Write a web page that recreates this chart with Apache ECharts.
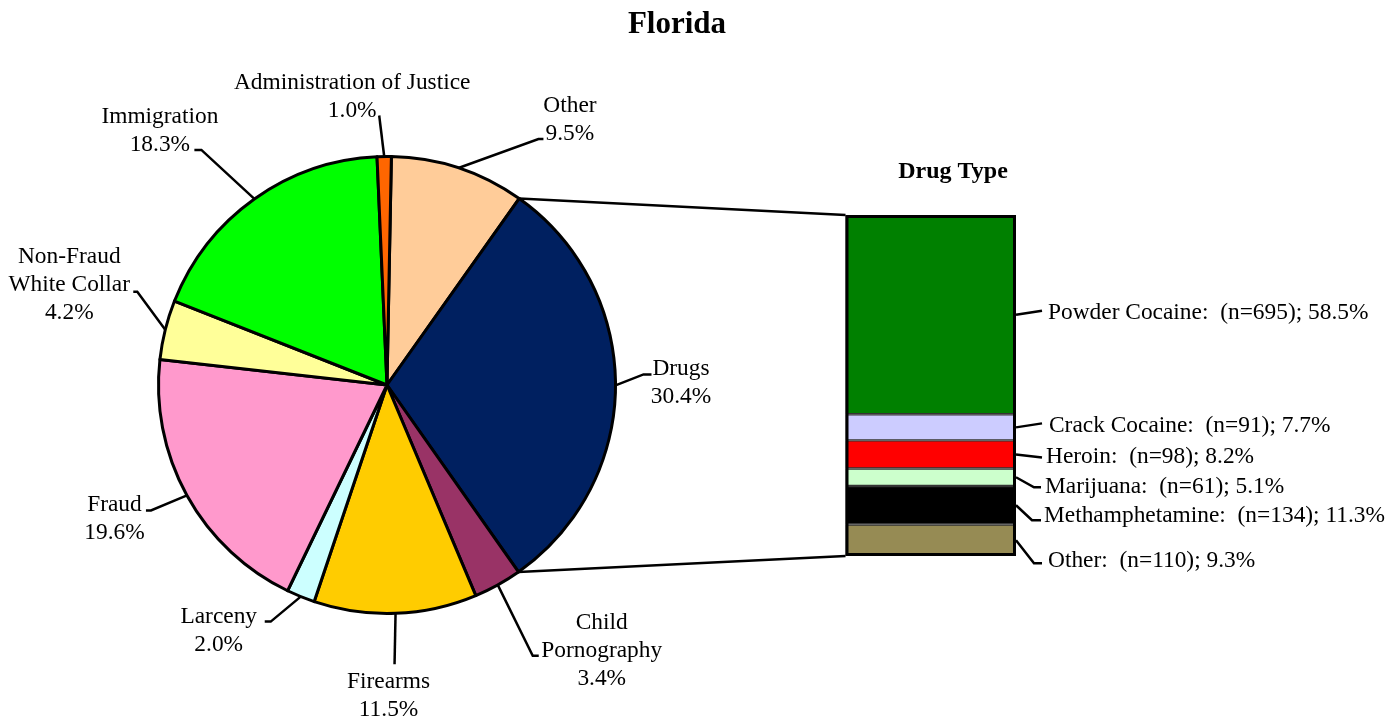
<!DOCTYPE html>
<html><head><meta charset="utf-8">
<script src="https://cdn.jsdelivr.net/npm/echarts@6/dist/echarts.min.js"></script>
<style>html,body{margin:0;padding:0;background:#fff}#c{width:1389px;height:719px}</style>
</head><body><div id="c"></div>
<script>
// ---------- data ----------
const categories = ['Other','Drugs','Child\nPornography','Firearms','Larceny','Fraud','Non-Fraud\nWhite Collar','Immigration','Administration of Justice'];
const shares = [9.5, 30.4, 3.4, 11.5, 2.0, 19.6, 4.2, 18.3, 1.0];
const drugTypes = ['Powder Cocaine','Crack Cocaine','Heroin','Marijuana','Methamphetamine','Other'];
const drugCounts = [695, 91, 98, 61, 134, 110];
const drugShares = [58.5, 7.7, 8.2, 5.1, 11.3, 9.3];

// ---------- styles / layout ----------
const pieColors = ['#FFCC99','#002060','#993366','#FFCC00','#CCFFFF','#FF99CC','#FFFF99','#00FF00','#FF6600'];
const drugColors = ['#008000','#CCCCFF','#FF0000','#CCFFCC','#000000','#968B54'];
const FONT = '"Liberation Serif", "Times New Roman", serif';
const FS = 23.4;
const PIE_C = [387, 385], PIE_R = 228.5, START = 88.9;
const GRID = {left: 845.5, top: 215, width: 170.5, height: 341};

// pie label placement relative to the anchor on the arc (line end, tick end, label centre)
const pieLabelPos = [
  {e:[80,-29],  t:[85,-29],  c:[111.5,-48]},
  {e:[28,-11],  t:[36,-11],  c:[65.5,-3]},
  {e:[35,71],   t:[41,71],   c:[104,66]},
  {e:[-1,51],   t:null,      c:[-7,82.5]},
  {e:[-30,25],  t:[-36,25],  c:[-82,34.5]},
  {e:[-36,15],  t:[-41,15],  c:[-72.5,23]},
  {e:[-28,-38], t:[-32,-38], c:[-96,-44.5]},
  {e:[-53,-49], t:[-60,-49], c:[-94.5,-68.5]},
  {e:[-5,-41],  t:null,      c:[-32,-59.5]}
];
// bar label placement relative to the segment's right-edge midpoint
const barLabelPos = [
  {p:[[26,-4]],          lx:32, ly:-2},
  {p:[[26,-4]],          lx:33, ly:-1.5},
  {p:[[26,3]],           lx:30, ly:2},
  {p:[[18,10],[25,10]],  lx:29, ly:10},
  {p:[[16,15],[25,15]],  lx:28, ly:10.5},
  {p:[[18,23],[26,23]],  lx:32, ly:21}
];

const pieSum = shares.reduce((a,b)=>a+b, 0);
const drugTotal = drugCounts.reduce((a,b)=>a+b, 0);
function arcPoint(frac, r) {
  const th = (90 - START + frac * 360) * Math.PI / 180;
  return [PIE_C[0] + r * Math.sin(th), PIE_C[1] - r * Math.cos(th)];
}
const cumShares = shares.map((v,i)=>shares.slice(0,i).reduce((a,b)=>a+b,0));
const cumCounts = drugCounts.map((v,i)=>drugCounts.slice(0,i).reduce((a,b)=>a+b,0));

const chart = echarts.init(document.getElementById('c'), null, {renderer:'canvas'});

const textBase = {fontFamily: FONT, fontSize: FS, color: '#000', lineHeight: 28};

const barSeries = drugTypes.map((name, i) => ({
  name, type: 'bar', stack: 'drugs', barWidth: '100%',
  data: [drugCounts[i]],
  itemStyle: {color: drugColors[i], borderColor: '#333', borderWidth: 1.2},
  silent: true, z: 2
}));

const option = {
  animation: false,
  backgroundColor: '#fff',
  title: [
    {text: 'Florida', left: 677, top: 9, textAlign: 'center', padding: 0,
     textStyle: {fontFamily: FONT, fontSize: 31, fontWeight: 'bold', color: '#000'}},
    {text: 'Drug Type', left: 953, top: 160, textAlign: 'center', padding: 0,
     textStyle: {fontFamily: FONT, fontSize: 24, fontWeight: 'bold', color: '#000'}}
  ],
  grid: GRID,
  xAxis: {type: 'category', data: ['Drugs'], show: false, boundaryGap: true},
  yAxis: {type: 'value', min: 0, max: drugTotal, inverse: true, show: false},
  series: [
    {
      type: 'pie', center: PIE_C, radius: PIE_R, startAngle: START, clockwise: true,
      avoidLabelOverlap: false, silent: true,
      emphasis: {disabled: true, scale: false},
      data: categories.map((n,i)=>({name: n, value: shares[i], itemStyle: {color: pieColors[i]}})),
      itemStyle: {borderColor: '#000', borderWidth: 3},
      label: Object.assign({show: true, position: 'outside',
        formatter: p => p.name + '\n' + shares[p.dataIndex].toFixed(1) + '%'}, textBase),
      labelLine: {show: true, length: 20, length2: 6, lineStyle: {color: '#000', width: 2.5}},
      labelLayout: function (params) {
        const i = params.dataIndex;
        const A = arcPoint((cumShares[i] + shares[i] / 2) / pieSum, PIE_R);
        const L = pieLabelPos[i];
        const pts = [A, [A[0] + L.e[0], A[1] + L.e[1]]];
        if (L.t) pts.push([A[0] + L.t[0], A[1] + L.t[1]]);
        return {x: A[0] + L.c[0], y: A[1] + L.c[1], align: 'center', verticalAlign: 'middle', labelLinePoints: pts};
      }
    },
    ...barSeries,
    {
      type: 'bar', name: 'frame', barWidth: '100%', barGap: '-100%', data: [drugTotal],
      itemStyle: {color: 'rgba(0,0,0,0)', borderColor: '#000', borderWidth: 3}, silent: true, z: 5
    },
    {
      type: 'custom', name: 'drugLabels', silent: true, clip: false, z: 6,
      data: drugTypes.map((n,i)=>[0, cumCounts[i] + drugCounts[i] / 2]),
      renderItem: function (params, api) {
        const i = params.dataIndex;
        const c = api.coord([0, api.value(1)]);
        const bw = api.size([1, 0])[0];
        const x0 = c[0] + bw / 2, y0 = c[1];
        const L = barLabelPos[i];
        const pts = [[x0, y0]].concat(L.p.map(d => [x0 + d[0], y0 + d[1]]));
        const txt = drugTypes[i] + ':  (n=' + drugCounts[i] + '); ' + drugShares[i].toFixed(1) + '%';
        return {type: 'group', children: [
          {type: 'polyline', shape: {points: pts}, style: {stroke: '#000', lineWidth: 2.5, fill: null}},
          {type: 'text', x: x0 + L.lx, y: y0 + L.ly, style: {text: txt, fill: '#000',
            font: FS + 'px ' + FONT, align: 'left', verticalAlign: 'middle', textAlign: 'left', textVerticalAlign: 'middle'}}
        ]};
      }
    }
  ]
};
chart.setOption(option);

// connector lines from the drugs slice edges to the bar corners
const topPx = chart.convertToPixel({gridIndex: 0}, [0, 0]);
const botPx = chart.convertToPixel({gridIndex: 0}, [0, drugTotal]);
const barLeft = topPx[0] - GRID.width / 2;
const pTop = arcPoint(cumShares[1] / pieSum, PIE_R);
const pBot = arcPoint((cumShares[1] + shares[1]) / pieSum, PIE_R);
chart.setOption({graphic: [
  {type: 'line', shape: {x1: pTop[0], y1: pTop[1], x2: barLeft, y2: topPx[1]}, style: {stroke: '#000', lineWidth: 2.5}, z: 10, silent: true},
  {type: 'line', shape: {x1: pBot[0], y1: pBot[1], x2: barLeft, y2: botPx[1]}, style: {stroke: '#000', lineWidth: 2.5}, z: 10, silent: true}
]});
</script>
</body></html>
